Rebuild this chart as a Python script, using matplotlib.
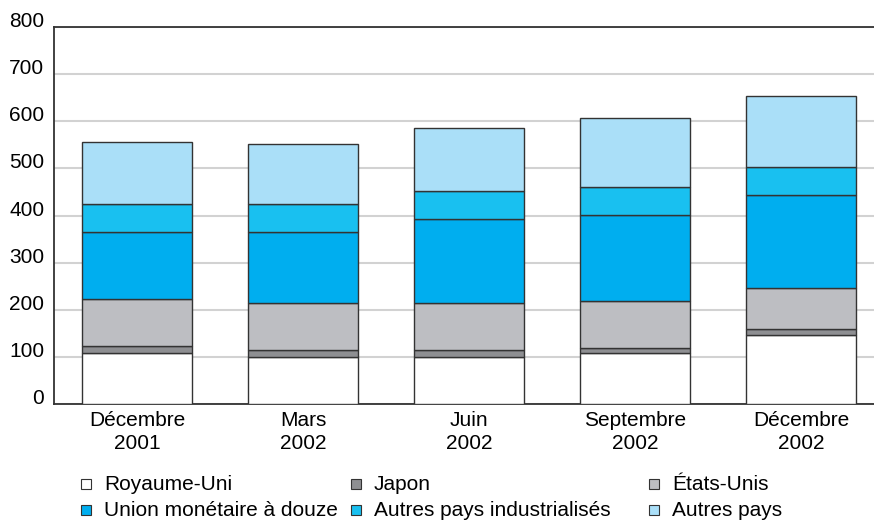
import matplotlib
matplotlib.use("Agg")
import matplotlib.pyplot as plt
from matplotlib.patches import Rectangle
import numpy as np

plt.rcParams['font.family'] = ['Liberation Sans', 'DejaVu Sans']

categories = ["Décembre\n2001", "Mars\n2002", "Juin\n2002", "Septembre\n2002", "Décembre\n2002"]
series_names = ["Royaume-Uni", "Japon", "États-Unis",
                "Union monétaire à douze", "Autres pays industrialisés", "Autres pays"]
royaume_uni = [109, 100, 100, 109, 146]
japon = [14, 14, 14, 10, 14]
etats_unis = [100, 101, 101, 100, 86]
union_monetaire = [143, 151, 178, 183, 197]
autres_industrialises = [59, 59, 59, 59, 60]
autres_pays = [131, 127, 133, 146, 150]
y_ticks = [0, 100, 200, 300, 400, 500, 600, 700, 800]

series = [royaume_uni, japon, etats_unis, union_monetaire, autres_industrialises, autres_pays]
colors = ["#ffffff", "#8e8f92", "#bdbec2", "#00aeef", "#19c0f0", "#aadff8"]

FS = 15

fig = plt.figure(figsize=(8.74, 5.22), dpi=100)
ax = fig.add_axes([54 / 874, 1 - 404 / 522, 820 / 874, (404 - 27) / 522])

x = np.arange(len(categories))
bottom = np.zeros(len(categories))
for vals, c in zip(series, colors):
    ax.bar(x, vals, width=0.66, bottom=bottom, color=c, edgecolor="#333333",
           linewidth=1.0, zorder=3)
    bottom += np.array(vals)

ax.set_ylim(0, 800)
ax.set_xlim(-0.5, 4.44)
ax.set_yticks(y_ticks)
ax.set_yticklabels([str(v) for v in y_ticks], fontsize=FS, va="baseline")
ax.tick_params(axis="y", length=0, pad=7)
ax.set_xticks(x)
ax.set_xticklabels(categories, fontsize=FS, linespacing=1.3)
ax.tick_params(axis="x", length=0, pad=5)

ax.grid(axis="y", color="#d2d2d2", linewidth=1.5, zorder=0)
ax.set_axisbelow(True)
for s in ["left", "bottom", "top"]:
    ax.spines[s].set_color("#333333")
    ax.spines[s].set_linewidth(1.3)
ax.spines["right"].set_visible(False)

# legend (manual layout)
leg_pos = [(86, 484), (356, 484), (654, 484), (86, 510), (356, 510), (654, 510)]
for (px, py), name, c in zip(leg_pos, series_names, colors):
    fig.patches.append(Rectangle(((px - 5) / 874, 1 - (py + 5) / 522), 10 / 874, 10 / 522,
                                 transform=fig.transFigure, facecolor=c,
                                 edgecolor="#333333", linewidth=0.8))
    fig.text((px + 18) / 874, 1 - py / 522, name, fontsize=FS, va="center", ha="left")

fig.savefig("out.png", dpi=100)
